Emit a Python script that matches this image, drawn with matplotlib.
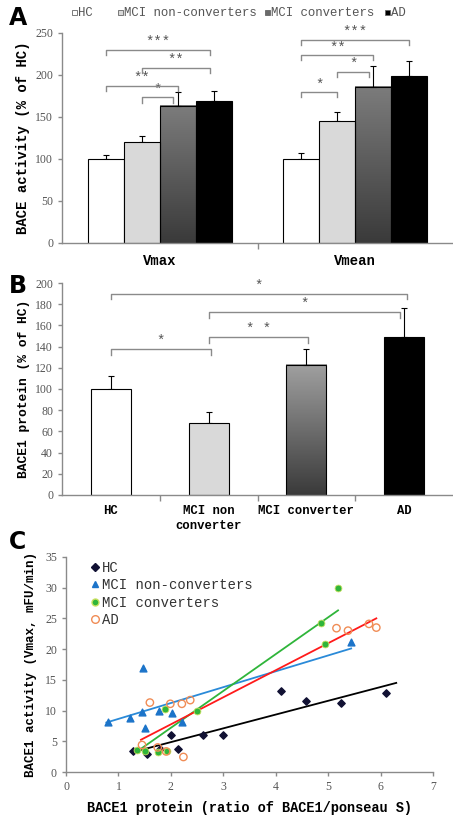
import numpy as np
import matplotlib
matplotlib.use('Agg')
import matplotlib.pyplot as plt
from matplotlib.colors import LinearSegmentedColormap
from matplotlib.lines import Line2D
from matplotlib.patches import Rectangle

# ---- panel A data ----
groups = ['HC', 'MCI non-converters', 'MCI converters', 'AD']
a_cats = ['Vmax', 'Vmean']
a_vals = {'Vmax':  [100, 120, 163, 169],
          'Vmean': [100, 145, 186, 198]}
a_errs = {'Vmax':  [5, 7, 16, 12],
          'Vmean': [7, 11, 25, 18]}
# (category, bar i, bar j, bracket height, label)
a_sig = [('Vmax', 0, 3, 230, '***'), ('Vmax', 1, 3, 208, '**'),
         ('Vmax', 0, 2, 187, '**'), ('Vmax', 1, 2, 173, '*'),
         ('Vmean', 0, 3, 241, '***'), ('Vmean', 0, 2, 223, '**'),
         ('Vmean', 1, 2, 203, '*'), ('Vmean', 0, 1, 179, '*')]

# ---- panel B data ----
b_labels = ['HC', 'MCI non\nconverter', 'MCI converter', 'AD']
b_vals = [100, 67.5, 123, 149.5]
b_errs = [12.5, 10.5, 15, 27]
b_sig = [(0, 3, 190, '*'), (1, 3, 172.5, '*'), (1, 2, 149, '* *'), (0, 1, 137.5, '*')]

# ---- panel C data ----
hc_x = [1.27, 1.55, 1.8, 2.0, 2.13, 2.62, 2.99, 4.11, 4.58, 5.25, 6.11]
hc_y = [3.5, 2.95, 3.8, 5.95, 3.8, 6.1, 6.05, 13.2, 11.6, 11.3, 12.8]
non_x = [0.81, 1.22, 1.45, 1.47, 1.5, 1.78, 2.02, 2.21, 5.44]
non_y = [8.2, 8.8, 9.7, 17.0, 7.1, 9.95, 9.65, 8.2, 21.1]
conv_x = [1.35, 1.51, 1.75, 1.88, 1.93, 2.5, 4.87, 4.94, 5.19]
conv_y = [3.6, 3.35, 3.25, 10.2, 3.5, 10.0, 24.2, 20.9, 29.9]
ad_x = [1.45, 1.6, 1.75, 1.91, 1.99, 2.21, 2.24, 2.37, 5.16, 5.38, 5.78, 5.92]
ad_y = [4.4, 11.3, 4.0, 3.35, 11.1, 11.1, 2.45, 11.7, 23.4, 23.0, 24.1, 23.5]
# fitted trend lines: (x0, x1), (y0, y1)
hc_fit = ([1.28, 6.3], [3.25, 14.5])
non_fit = ([0.77, 5.44], [8.05, 20.1])
conv_fit = ([1.35, 5.19], [3.3, 26.3])
ad_fit = ([1.43, 5.92], [5.25, 25.0])

MONO = 'Liberation Mono'
SERIF = 'Liberation Serif'
GREY = '#8a8a8a'
TICKC = '#555555'
bar_faces = ['white', '#d9d9d9', None, 'black']
legend_faces = ['white', '#d9d9d9', '#6a6a6a', 'black']

grad_a = LinearSegmentedColormap.from_list('ga', ['#3a3a3a', '#7c7c7c'])
grad_b = LinearSegmentedColormap.from_list('gb', ['#3a3a3a', '#a0a0a0'])

W, H = 453, 818


def gradient_fill(ax, bar, cmap):
    x0, w, h = bar.get_x(), bar.get_width(), bar.get_height()
    ax.imshow(np.linspace(0, 1, 256).reshape(-1, 1), cmap=cmap, origin='lower',
              extent=(x0, x0 + w, 0, h), aspect='auto', zorder=1.5)


def bracket(ax, x1, x2, y, drop, text, fs=10):
    ax.plot([x1, x1, x2, x2], [y - drop, y, y, y - drop], color=GREY, lw=1.0,
            zorder=4, clip_on=False)
    ax.text((x1 + x2) / 2, y + drop * 0.2, text, ha='center', va='bottom',
            fontsize=fs, color=TICKC, family=MONO)


def style_axes(ax):
    for s in ['top', 'right']:
        ax.spines[s].set_visible(False)
    for s in ['left', 'bottom']:
        ax.spines[s].set_color(GREY)
        ax.spines[s].set_linewidth(1.0)
    ax.tick_params(axis='both', colors=GREY, labelcolor=TICKC, labelsize=8.5,
                   length=3, width=1)
    for lab in ax.get_yticklabels() + ax.get_xticklabels():
        lab.set_family(SERIF)


def cat_labels(ax, size):
    for lab in ax.get_xticklabels():
        lab.set_family(MONO)
        lab.set_fontweight('bold')
        lab.set_fontsize(size)
        lab.set_color('black')
        lab.set_linespacing(1.4)


fig = plt.figure(figsize=(W / 100, H / 100), dpi=100)

# ================= panel A =================
axA = fig.add_axes([0.137, 0.703, 0.863, 0.257])
w = 0.184
offs = (np.arange(4) - 1.5) * w
centers = {c: i + 0.5 for i, c in enumerate(a_cats)}
for g in range(4):
    xs = [centers[c] + offs[g] for c in a_cats]
    vals = [a_vals[c][g] for c in a_cats]
    errs = [a_errs[c][g] for c in a_cats]
    fc = bar_faces[g] if bar_faces[g] else 'none'
    bars = axA.bar(xs, vals, w, color=fc, edgecolor='black', lw=0.8, zorder=2)
    axA.errorbar(xs, vals, yerr=[np.zeros(2), errs], fmt='none', ecolor='black',
                 elinewidth=0.8, capsize=2, capthick=0.8, zorder=1.8)
    if bar_faces[g] is None:
        for b in bars:
            gradient_fill(axA, b, grad_a)

for c, i, j, y, t in a_sig:
    x1 = centers[c] + offs[i]
    x2 = centers[c] + offs[j] - (0.02 if j == 3 else 0.0)
    if c == 'Vmax' and (i, j) == (1, 2):
        x2 -= 0.025
    if c == 'Vmean' and (i, j) == (0, 3):
        x2 += 0.02
    if c == 'Vmean' and (i, j) == (1, 2):
        x2 -= 0.02
    bracket(axA, x1, x2, y, 6, t)

axA.set_xlim(0, 2)
axA.set_ylim(0, 250)
axA.set_yticks(np.arange(0, 251, 50))
axA.set_xticks([0.5, 1.5])
axA.set_xticklabels(a_cats)
axA.set_xticks([1.0], minor=True)
style_axes(axA)
axA.tick_params(axis='x', which='major', length=0, pad=8)
axA.tick_params(axis='x', which='minor', length=4, color=GREY, width=1)
cat_labels(axA, 10)
axA.set_ylabel('BACE activity (% of HC)', family=MONO, fontweight='bold',
               fontsize=10, labelpad=4)

# legend row above panel A (pixel positions of each entry)
leg_px = [72, 118, 265, 385]
for name, face, px in zip(groups, legend_faces, leg_px):
    fig.add_artist(Rectangle((px / W, 1 - 15 / H), 5 / W, 5 / H, facecolor=face,
                             edgecolor='#666666', lw=0.6, transform=fig.transFigure))
    fig.text((px + 6) / W, 1 - 12.5 / H, name, family=MONO, fontsize=8.9,
             color=TICKC, va='center', ha='left')

# ================= panel B =================
axB = fig.add_axes([0.137, 0.395, 0.863, 0.259])
bx = np.arange(4) + 0.5
bw = 0.41
bfaces = ['white', '#d9d9d9', 'none', 'black']
bars = axB.bar(bx, b_vals, bw, color=bfaces, edgecolor='black', lw=0.8, zorder=2)
axB.errorbar(bx, b_vals, yerr=[np.zeros(4), b_errs], fmt='none', ecolor='black',
             elinewidth=0.8, capsize=2, capthick=0.8, zorder=1.8)
gradient_fill(axB, bars[2], grad_b)
for i, j, y, t in b_sig:
    bracket(axB, bx[i], bx[j] + (0.03 if (i, j) == (0, 3) else -0.04 if j == 3 else 0.02), y, 5.5, t)
axB.set_xlim(0, 4)
axB.set_ylim(0, 200)
axB.set_yticks(np.arange(0, 201, 20))
axB.set_xticks(bx)
axB.set_xticklabels(b_labels)
axB.set_xticks([1, 2, 3], minor=True)
style_axes(axB)
axB.tick_params(axis='x', which='major', length=0, pad=7)
axB.tick_params(axis='x', which='minor', length=4, color=GREY, width=1)
cat_labels(axB, 8.8)
axB.set_ylabel('BACE1 protein (% of HC)', family=MONO, fontweight='bold',
               fontsize=9.4, labelpad=4)

# ================= panel C =================
axC = fig.add_axes([0.1457, 0.0562, 0.81, 0.263])
c_blue, c_green, c_orange, c_red = '#1c74c9', '#2fb53a', '#f08c55', '#ff1a1a'
axC.plot(*hc_fit, color='black', lw=1.3, zorder=2)
axC.plot(*non_fit, color='#2a8ad8', lw=1.3, zorder=2)
axC.plot(*conv_fit, color=c_green, lw=1.3, zorder=2)
axC.plot(*ad_fit, color=c_red, lw=1.3, zorder=2)
axC.scatter(hc_x, hc_y, marker='D', s=14, color='#111133', zorder=3)
axC.scatter(non_x, non_y, marker='^', s=24, color=c_blue, zorder=3)
axC.scatter(conv_x, conv_y, marker='o', s=24, color=c_green, edgecolors='#c8e060',
            linewidths=0.6, zorder=3)
axC.scatter(ad_x, ad_y, marker='o', s=28, facecolors='none', edgecolors=c_orange,
            linewidths=1.0, zorder=3)
axC.set_xlim(0, 7)
axC.set_ylim(0, 35)
axC.set_xticks(np.arange(0, 8, 1))
axC.set_yticks(np.arange(0, 36, 5))
style_axes(axC)
axC.set_ylabel('BACE1 activity (Vmax, mFU/min)', family=MONO, fontweight='bold',
               fontsize=9, labelpad=6)
axC.set_xlabel('BACE1 protein (ratio of BACE1/ponseau S)', family=MONO,
               fontweight='bold', fontsize=9.8, labelpad=6)
leg_h = [Line2D([], [], ls='none', marker='D', ms=4, color='#111133'),
         Line2D([], [], ls='none', marker='^', ms=5, color=c_blue),
         Line2D([], [], ls='none', marker='o', ms=5, color=c_green, mec='#c8e060'),
         Line2D([], [], ls='none', marker='o', ms=5.5, mfc='none', mec=c_orange)]
axC.legend(leg_h, ['HC', 'MCI non-converters', 'MCI converters', 'AD'],
           loc='upper left', bbox_to_anchor=(0.03, 1.04), frameon=False,
           handlelength=0.8, handletextpad=0.1, labelspacing=0.25,
           prop={'family': MONO, 'size': 10}, labelcolor='#333333')

# panel letters
for letter, y in [('A', 0.993), ('B', 0.665), ('C', 0.352)]:
    fig.text(0.02, y, letter, fontsize=17, fontweight='bold', family='DejaVu Sans',
             va='top', ha='left')

fig.savefig('out.png', dpi=100)
